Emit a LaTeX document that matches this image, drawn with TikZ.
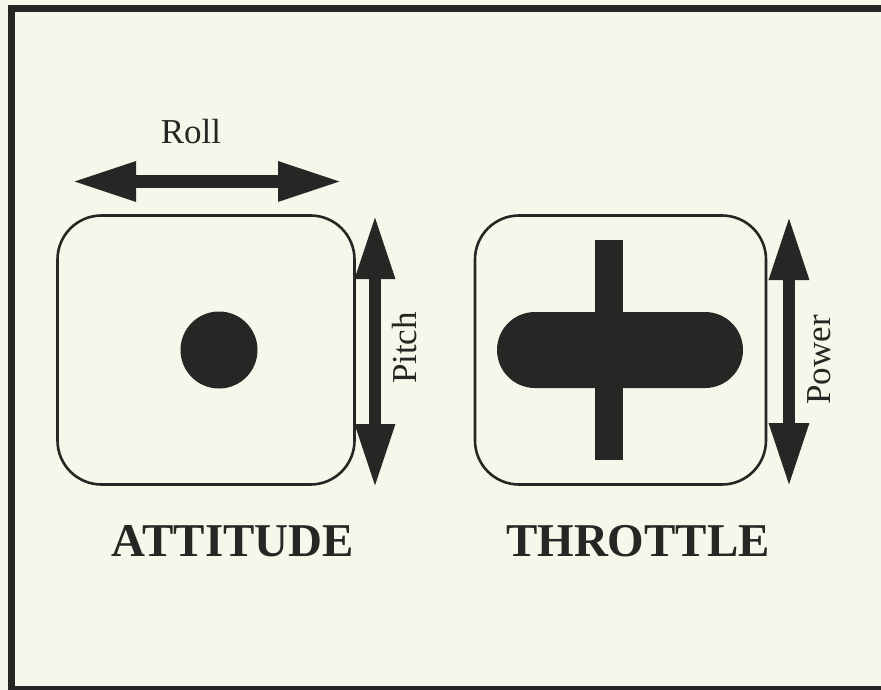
\documentclass[tikz,border=0pt]{standalone}
\usepackage{fontspec}
\setmainfont{Liberation Serif}
\usetikzlibrary{arrows.meta}
\definecolor{bg}{RGB}{246,246,234}
\definecolor{ink}{RGB}{40,38,36}
\begin{document}
\begin{tikzpicture}[x=1pt,y=-1pt,
  panel/.style={draw=ink, line width=2.6pt, rounded corners=44pt, minimum width=297pt, minimum height=269pt, inner sep=0pt},
  blob/.style={fill=ink, draw=none, inner sep=0pt},
  bigarrow/.style={draw=ink, line width=12pt, {Triangle[length=64pt,width=37pt]}-{Triangle[length=64pt,width=37pt]}, shorten <=0pt, shorten >=0pt},
  frameline/.style={draw=ink, line cap=butt},
  lbl/.style={font=\fontsize{35}{35}\selectfont, text=ink, inner sep=0pt},
  title/.style={font=\fontsize{47}{47}\selectfont\bfseries, text=ink, inner sep=0pt, anchor=base}]
\fill[bg] (0,0) rectangle (881,690);
\useasboundingbox (0,0) rectangle (881,690);
% frame
\coordinate (fTL) at (11,9);
\coordinate (fTR) at (881,9);
\coordinate (fBL) at (11,688);
\coordinate (fBR) at (881,688);
\draw[frameline, line width=7pt] (fTR) -- (7.5,9);
\draw[frameline, line width=7pt] (fTL) -- (11,690);
\draw[frameline, line width=5pt] (fBL) -- (fBR);
% attitude panel
\node[panel] (att) at (206,350) {};
\node[blob, circle, minimum size=77pt] (dot) at (219,350) {};
% throttle panel
\node[panel, minimum width=291pt] (thr) at (620.5,350) {};
\node[blob, minimum width=28pt, minimum height=220pt] (vbar) at (609,350) {};
\node[blob, rounded corners=38pt, minimum width=246pt, minimum height=76pt] (pill) at (620,350) {};
% roll arrow
\coordinate (rollL) at (72,181.5);
\coordinate (rollR) at (342,181.5);
\draw[bigarrow] (rollL) -- (rollR);
\node[lbl, anchor=base] (roll) at (191,144) {Roll};
% pitch arrow
\coordinate (pitchT) at (375,215);
\coordinate (pitchB) at (375,488);
\draw[bigarrow] (pitchT) -- (pitchB);
\node[lbl, rotate=90, anchor=base] (pitch) at (416,348) {Pitch};
% power arrow
\coordinate (powT) at (789,216);
\coordinate (powB) at (789,487);
\draw[bigarrow] (powT) -- (powB);
\node[lbl, rotate=90, anchor=base] (power) at (830,360) {Power};
% titles
\node[title] (attitude) at (233,556) {ATTITUDE};
\node[title] (throttle) at (638,556) {THROTTLE};
\end{tikzpicture}
\end{document}
